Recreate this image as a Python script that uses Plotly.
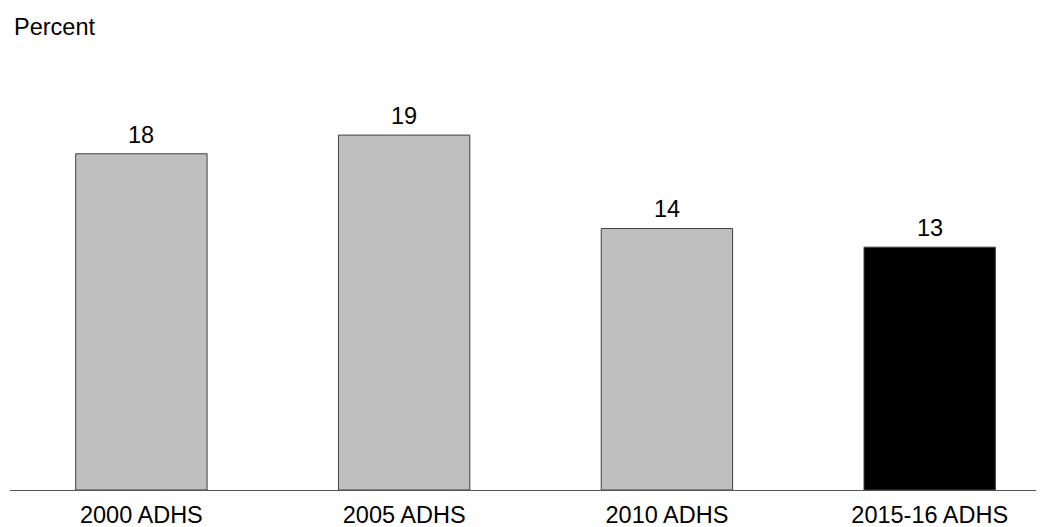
import plotly.graph_objects as go

categories = ["2000 ADHS", "2005 ADHS", "2010 ADHS", "2015-16 ADHS"]
values = [18, 19, 14, 13]
bar_colors = ["#bfbfbf", "#bfbfbf", "#bfbfbf", "#000000"]

FONT = "Liberation Sans, Arial, sans-serif"
FS = 23.5

fig = go.Figure()
fig.add_trace(go.Bar(
    x=categories,
    y=values,
    width=0.5,
    marker=dict(color=bar_colors, line=dict(color="#404040", width=1)),
    hoverinfo="skip",
))

for c, v in zip(categories, values):
    fig.add_annotation(
        x=c, y=v, text=str(v), showarrow=False,
        yanchor="bottom", yshift=4,
        font=dict(family=FONT, size=FS, color="#000000"),
    )

fig.add_annotation(
    text="Percent", xref="paper", yref="paper", x=0, y=1,
    xanchor="left", yanchor="top", showarrow=False,
    xshift=2, yshift=48,
    font=dict(family=FONT, size=FS, color="#000000"),
)

# page has an 8px body margin: figure is sized/offset to compensate
fig.update_layout(
    width=1036, height=519,
    margin=dict(l=2, r=0, t=52, b=37),
    plot_bgcolor="white", paper_bgcolor="white",
    showlegend=False,
    font=dict(family=FONT, size=FS, color="#000000"),
    xaxis=dict(
        range=[-0.5, 3.435], showgrid=False, zeroline=False,
        showline=True, linecolor="#555555", linewidth=1,
        ticks="", tickfont=dict(family=FONT, size=FS, color="#000000"),
        ticklabelstandoff=4,
        fixedrange=True,
    ),
    yaxis=dict(
        range=[0, 23.02], showgrid=False, zeroline=False,
        showline=False, showticklabels=False, ticks="",
        fixedrange=True,
    ),
)

fig.write_html("out.html")
